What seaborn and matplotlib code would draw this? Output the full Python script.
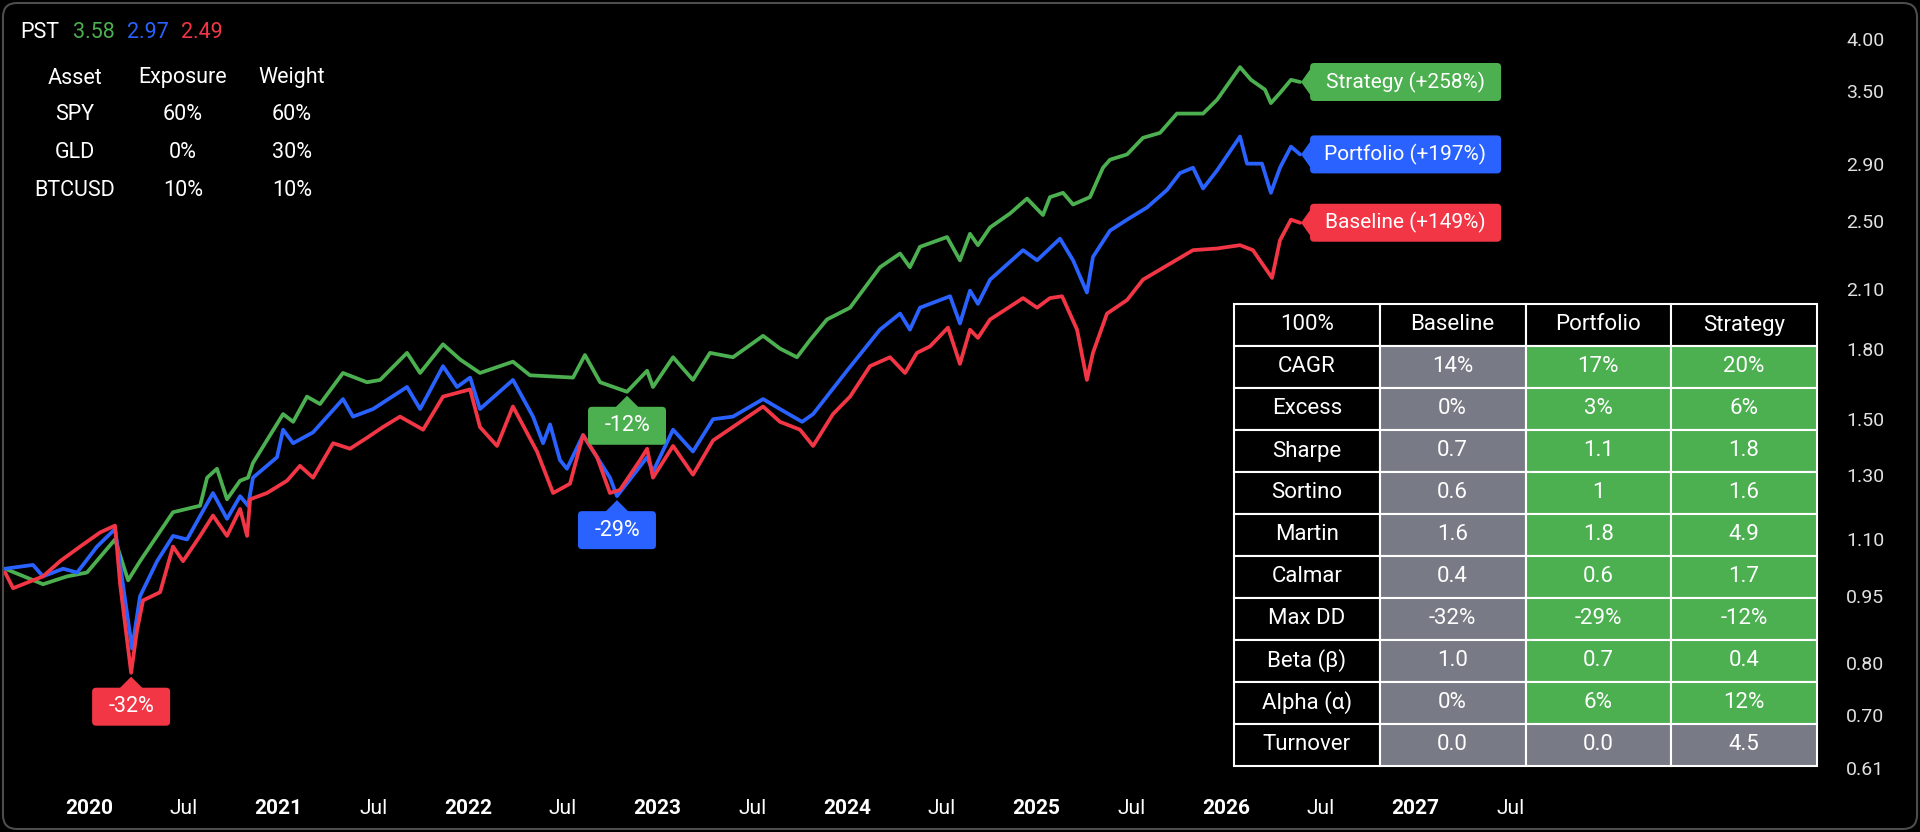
import numpy as np
import pandas as pd
import matplotlib
matplotlib.use("Agg")
import matplotlib.pyplot as plt
import seaborn as sns
from matplotlib.patches import FancyBboxPatch, Polygon, Rectangle
from matplotlib.ticker import FixedLocator, FixedFormatter, NullLocator

W, H = 1920, 832
GREEN = "#4caf50"
BLUE = "#2962ff"
RED = "#f23645"
GRAY = "#787b86"

# growth of 1 unit, x as decimal years
strategy_t = [2019.557, 2019.757, 2019.884, 2019.989, 2020.137, 2020.206, 2020.269, 2020.443,
              2020.586, 2020.623, 2020.675, 2020.728, 2020.797, 2020.839, 2020.865, 2021.024,
              2021.077, 2021.150, 2021.219, 2021.340, 2021.467, 2021.536, 2021.678, 2021.747,
              2021.868, 2021.958, 2022.063, 2022.237, 2022.327, 2022.554, 2022.617, 2022.697,
              2022.839, 2022.945, 2022.976, 2023.082, 2023.187, 2023.277, 2023.398, 2023.557,
              2023.646, 2023.736, 2023.805, 2023.894, 2024.016, 2024.174, 2024.280, 2024.332,
              2024.385, 2024.528, 2024.596, 2024.649, 2024.691, 2024.755, 2024.860, 2024.950,
              2025.034, 2025.071, 2025.140, 2025.193, 2025.282, 2025.351, 2025.388, 2025.478,
              2025.562, 2025.652, 2025.741, 2025.879, 2025.953, 2026.074, 2026.132, 2026.206,
              2026.237, 2026.285, 2026.343, 2026.391]
strategy_v = [1.02, 0.98, 1.00, 1.01, 1.10, 0.99, 1.04, 1.18,
              1.20, 1.29, 1.32, 1.22, 1.28, 1.29, 1.34, 1.52,
              1.49, 1.59, 1.56, 1.69, 1.65, 1.66, 1.78, 1.69,
              1.82, 1.75, 1.69, 1.74, 1.68, 1.67, 1.77, 1.65,
              1.61, 1.70, 1.63, 1.76, 1.66, 1.78, 1.76, 1.86,
              1.80, 1.76, 1.84, 1.94, 2.00, 2.22, 2.30, 2.22,
              2.34, 2.40, 2.26, 2.42, 2.35, 2.46, 2.55, 2.65,
              2.54, 2.66, 2.69, 2.61, 2.66, 2.87, 2.93, 2.97,
              3.10, 3.14, 3.30, 3.30, 3.42, 3.72, 3.60, 3.51,
              3.39, 3.48, 3.60, 3.58]

portfolio_t = [2019.557, 2019.704, 2019.757, 2019.863, 2019.937, 2020.042, 2020.137, 2020.227,
               2020.269, 2020.359, 2020.443, 2020.517, 2020.654, 2020.728, 2020.797, 2020.839,
               2020.865, 2020.992, 2021.024, 2021.077, 2021.182, 2021.340, 2021.393, 2021.499,
               2021.678, 2021.747, 2021.868, 2021.942, 2022.011, 2022.063, 2022.237, 2022.343,
               2022.396, 2022.433, 2022.485, 2022.522, 2022.607, 2022.749, 2022.786, 2022.945,
               2022.976, 2023.082, 2023.187, 2023.293, 2023.398, 2023.557, 2023.646, 2023.763,
               2023.821, 2024.000, 2024.174, 2024.280, 2024.332, 2024.385, 2024.544, 2024.596,
               2024.649, 2024.691, 2024.755, 2024.929, 2025.003, 2025.124, 2025.193, 2025.266,
               2025.298, 2025.388, 2025.478, 2025.583, 2025.689, 2025.757, 2025.826, 2025.879,
               2025.953, 2026.074, 2026.111, 2026.190, 2026.237, 2026.285, 2026.343, 2026.391]
portfolio_v = [1.02, 1.03, 1.00, 1.02, 1.01, 1.08, 1.13, 0.83,
               0.95, 1.04, 1.11, 1.10, 1.24, 1.16, 1.23, 1.20,
               1.29, 1.36, 1.46, 1.41, 1.45, 1.58, 1.51, 1.54,
               1.63, 1.54, 1.72, 1.63, 1.67, 1.54, 1.66, 1.51,
               1.41, 1.48, 1.35, 1.32, 1.44, 1.29, 1.23, 1.36,
               1.31, 1.46, 1.38, 1.50, 1.51, 1.58, 1.54, 1.49,
               1.52, 1.70, 1.89, 1.97, 1.89, 2.00, 2.06, 1.92,
               2.09, 2.02, 2.15, 2.32, 2.26, 2.39, 2.26, 2.08,
               2.28, 2.44, 2.51, 2.59, 2.71, 2.83, 2.87, 2.72,
               2.85, 3.11, 2.90, 2.90, 2.69, 2.87, 3.03, 2.97]

baseline_t = [2019.557, 2019.599, 2019.652, 2019.757, 2019.847, 2019.953, 2020.058, 2020.137,
              2020.164, 2020.222, 2020.253, 2020.285, 2020.375, 2020.443, 2020.496, 2020.586,
              2020.654, 2020.728, 2020.797, 2020.834, 2020.850, 2020.939, 2021.045, 2021.113,
              2021.182, 2021.288, 2021.377, 2021.467, 2021.551, 2021.641, 2021.763, 2021.868,
              2022.011, 2022.063, 2022.153, 2022.237, 2022.364, 2022.449, 2022.538, 2022.607,
              2022.681, 2022.749, 2022.802, 2022.908, 2022.945, 2022.976, 2023.082, 2023.187,
              2023.293, 2023.557, 2023.646, 2023.752, 2023.821, 2023.926, 2024.016, 2024.121,
              2024.227, 2024.306, 2024.369, 2024.438, 2024.533, 2024.596, 2024.649, 2024.691,
              2024.755, 2024.929, 2025.003, 2025.071, 2025.135, 2025.214, 2025.266, 2025.298,
              2025.372, 2025.478, 2025.562, 2025.704, 2025.826, 2025.953, 2026.074, 2026.142,
              2026.243, 2026.285, 2026.343, 2026.391]
baseline_v = [1.01, 0.97, 0.98, 1.00, 1.04, 1.08, 1.12, 1.14,
              0.98, 0.78, 0.87, 0.94, 0.96, 1.08, 1.04, 1.11,
              1.17, 1.11, 1.19, 1.11, 1.22, 1.24, 1.28, 1.33,
              1.29, 1.41, 1.39, 1.43, 1.47, 1.51, 1.46, 1.59,
              1.62, 1.47, 1.40, 1.55, 1.38, 1.24, 1.27, 1.44,
              1.36, 1.24, 1.25, 1.35, 1.39, 1.29, 1.40, 1.30,
              1.42, 1.55, 1.49, 1.46, 1.40, 1.52, 1.59, 1.72,
              1.76, 1.69, 1.78, 1.81, 1.90, 1.73, 1.89, 1.85,
              1.94, 2.05, 2.00, 2.05, 2.06, 1.89, 1.66, 1.78,
              1.97, 2.04, 2.15, 2.24, 2.32, 2.33, 2.35, 2.32,
              2.16, 2.38, 2.51, 2.49]

# where the max drawdown labels sit
dd_trough_t = {"Baseline": 2020.222, "Portfolio": 2022.786, "Strategy": 2022.839}

y_ticks = [4.00, 3.50, 2.90, 2.50, 2.10, 1.80, 1.50, 1.30, 1.10, 0.95, 0.80, 0.70, 0.61]
x_ticks = [2020, 2020.5, 2021, 2021.5, 2022, 2022.5, 2023, 2023.5,
           2024, 2024.5, 2025, 2025.5, 2026, 2026.5, 2027, 2027.5]
x_labels = ["2020", "Jul", "2021", "Jul", "2022", "Jul", "2023", "Jul",
            "2024", "Jul", "2025", "Jul", "2026", "Jul", "2027", "Jul"]

assets = ["SPY", "GLD", "BTCUSD"]
exposure = ["60%", "0%", "10%"]
weight = ["60%", "30%", "10%"]

metric_names = ["CAGR", "Excess", "Sharpe", "Sortino", "Martin", "Calmar",
                 "Max DD", "Beta (β)", "Alpha (α)", "Turnover"]
baseline_stats = ["14%", "0%", "0.7", "0.6", "1.6", "0.4", "-32%", "1.0", "0%", "0.0"]
portfolio_stats = ["17%", "3%", "1.1", "1", "1.8", "0.6", "-29%", "0.7", "6%", "0.0"]
strategy_stats = ["20%", "6%", "1.8", "1.6", "4.9", "1.7", "-12%", "0.4", "12%", "4.5"]

series_names = ["Strategy", "Portfolio", "Baseline"]
palette = {"Strategy": GREEN, "Portfolio": BLUE, "Baseline": RED}
series = {"Strategy": (strategy_t, strategy_v),
          "Portfolio": (portfolio_t, portfolio_v),
          "Baseline": (baseline_t, baseline_v)}

df = pd.concat([pd.DataFrame({"t": t, "v": v, "series": n}) for n, (t, v) in series.items()],
               ignore_index=True)

sns.set_theme(style="dark", rc={"axes.facecolor": "black", "figure.facecolor": "black"})
plt.rcParams["font.family"] = ["Roboto", "DejaVu Sans"]

fig = plt.figure(figsize=(W / 100, H / 100), dpi=100)
ax = fig.add_axes([0, (H - 768) / H, 1835 / W, (768 - 39) / H])
sns.lineplot(data=df, x="t", y="v", hue="series", hue_order=series_names, palette=palette,
             estimator=None, linewidth=2.7, legend=False, ax=ax)
ax.set_yscale("log")
ax.set_xlim(2019.530, 2029.214)
ax.set_ylim(0.61, 4.0)
ax.yaxis.tick_right()
ax.yaxis.set_major_locator(FixedLocator(y_ticks))
ax.yaxis.set_major_formatter(FixedFormatter([f"{v:.2f}" for v in y_ticks]))
ax.yaxis.set_minor_locator(NullLocator())
ax.set_xticks(x_ticks)
ax.set_xticklabels(x_labels)
for lab in ax.get_xticklabels():
    if lab.get_text() != "Jul":
        lab.set_fontweight("bold")
ax.tick_params(axis="y", length=0, pad=8, labelsize=14, labelcolor="#e0e0e0")
ax.tick_params(axis="x", length=0, pad=22, labelsize=15, labelcolor="white")
ax.set_xlabel("")
ax.set_ylabel("")
ax.grid(False)
for s in ax.spines.values():
    s.set_visible(False)

# overlay in pixel coords (y down)
ov = fig.add_axes([0, 0, 1, 1], zorder=5)
ov.set_xlim(0, W)
ov.set_ylim(H, 0)
ov.axis("off")


def to_px(t, v):
    d = ax.transData.transform((t, v))
    return d[0], H - d[1]


ov.add_patch(FancyBboxPatch((3, 3), W - 6, H - 6, boxstyle="round,pad=0,rounding_size=14",
                            fill=False, edgecolor="#4d4d4d", linewidth=1.5))

# header with last values
ov.text(20, 32, "PST", color="white", fontsize=15.5, va="center")
for xp, n in zip([73, 127, 181], series_names):
    ov.text(xp, 32, f"{series[n][1][-1]:.2f}", color=palette[n], fontsize=15.5, va="center")

# asset table
for xp, col in zip([75, 183, 292], [["Asset"] + assets, ["Exposure"] + exposure, ["Weight"] + weight]):
    for yp, s in zip([78, 115, 153, 190], col):
        ov.text(xp, yp, s, color="white", fontsize=15.5, ha="center", va="center")

# end labels
for n in series_names:
    t, v = series[n]
    c = palette[n]
    x, y = to_px(t[-1], v[-1])
    tip = x + 1
    xb = tip + 9
    ov.add_patch(FancyBboxPatch((xb, y - 19), 191, 38, boxstyle="round,pad=0,rounding_size=4",
                                facecolor=c, edgecolor="none"))
    ov.add_patch(Polygon([(tip, y), (xb + 1, y - 14), (xb + 1, y + 14)], closed=True,
                         facecolor=c, edgecolor="none"))
    ov.text(xb + 95, y, f"{n} (+{(v[-1] - 1) * 100:.0f}%)", color="white", fontsize=15,
            ha="center", va="center")

# max drawdown labels
dd_text = {"Baseline": baseline_stats[6], "Portfolio": portfolio_stats[6], "Strategy": strategy_stats[6]}
for n in series_names:
    t, v = series[n]
    i = int(np.argmin(np.abs(np.array(t) - dd_trough_t[n])))
    x, y = to_px(t[i], v[i])
    c = palette[n]
    tip = y + 4
    ov.add_patch(Polygon([(x, tip), (x - 12, tip + 12), (x + 12, tip + 12)], closed=True,
                         facecolor=c, edgecolor="none"))
    ov.add_patch(FancyBboxPatch((x - 39, tip + 11), 78, 38, boxstyle="round,pad=0,rounding_size=4",
                                facecolor=c, edgecolor="none"))
    ov.text(x, tip + 30, dd_text[n], color="white", fontsize=15.5, ha="center", va="center")

# metrics table
tx0, ty0, cw, rh = 1234, 304, 145.75, 42
header = ["100%", "Baseline", "Portfolio", "Strategy"]
rows = [header] + [[m, b, p, s] for m, b, p, s in zip(metric_names, baseline_stats,
                                                       portfolio_stats, strategy_stats)]
for r, row in enumerate(rows):
    for c, s in enumerate(row):
        if r == 0 or c == 0:
            fc = "black"
        elif c == 1 or row[0] == "Turnover":
            fc = GRAY
        else:
            fc = GREEN
        ov.add_patch(Rectangle((tx0 + c * cw, ty0 + r * rh), cw, rh, facecolor=fc,
                               edgecolor="white", linewidth=1.5))
        ov.text(tx0 + c * cw + cw / 2, ty0 + r * rh + rh / 2, s, color="white", fontsize=16,
                ha="center", va="center")

fig.savefig("out.png", dpi=100, facecolor="black")
